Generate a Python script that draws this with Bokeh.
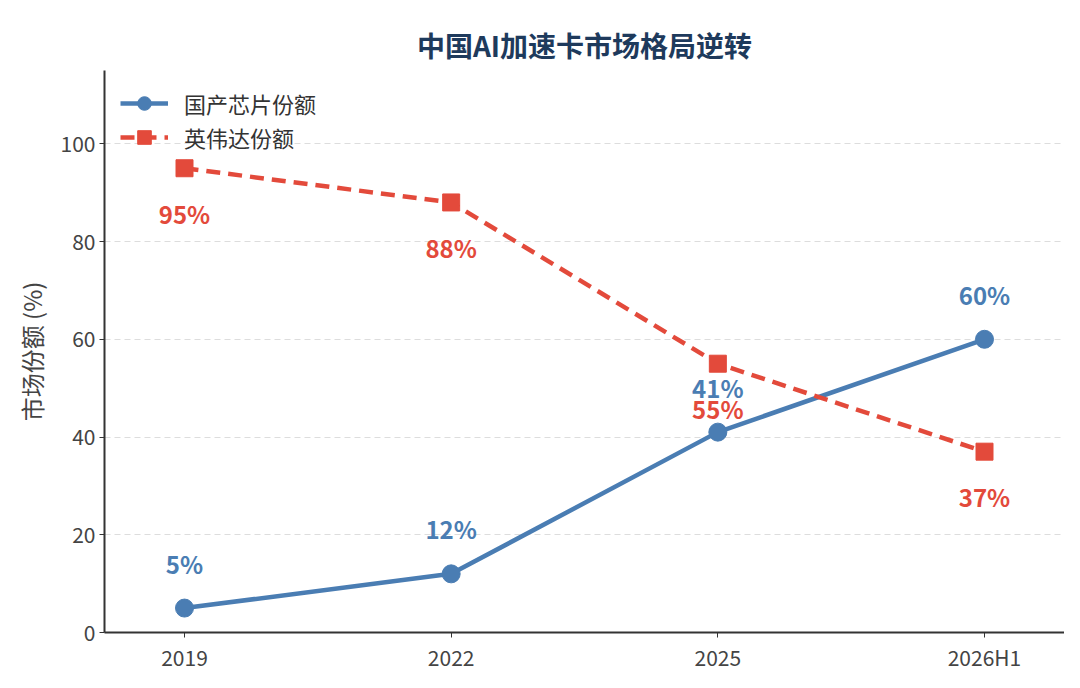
from bokeh.plotting import figure
from bokeh.models import ColumnDataSource, Range1d, FixedTicker, Legend, LegendItem
from bokeh.core.properties import value
from bokeh.embed import file_html
from bokeh.resources import INLINE

categories = ["2019", "2022", "2025", "2026H1"]
domestic = [5, 12, 41, 60]
nvidia = [95, 88, 55, 37]
series_names = ["国产芯片份额", "英伟达份额"]
title_text = "中国AI加速卡市场格局逆转"
y_label = "市场份额 (%)"
y_ticks = [0, 20, 40, 60, 80, 100]

BLUE = "#4a7db3"
RED = "#e34a3b"
FONT = "Noto Sans CJK SC"

xs = list(range(len(categories)))
src_d = ColumnDataSource(dict(x=xs, y=domestic, t=[f"{v}%" for v in domestic]))
src_n = ColumnDataSource(dict(x=xs, y=nvidia, t=[f"{v}%" for v in nvidia]))

X0, X1, Y0, Y1 = -0.3, 3.3, 0, 115
p = figure(width=1064, height=674, output_backend="svg", toolbar_location=None,
           x_range=Range1d(X0, X1), y_range=Range1d(Y0, Y1),
           min_border_left=104, min_border_right=0, min_border_top=70, min_border_bottom=39)

p.title.text = title_text
p.title.text_font = FONT
p.title.text_font_size = "28px"
p.title.text_font_style = "bold"
p.title.text_color = "#1e3a5c"
p.title.align = "center"
p.title.vertical_align = "middle"
p.title.offset = 0
p.title.standoff = 10

p.outline_line_color = None
p.background_fill_color = "white"
p.border_fill_color = "white"

# grid
p.xgrid.grid_line_color = None
p.ygrid.grid_line_color = "#dddddd"
p.ygrid.grid_line_dash = "6 4"
p.ygrid.grid_line_width = 1

# axes
p.xaxis.ticker = FixedTicker(ticks=xs)
p.xaxis.major_label_overrides = {i: c for i, c in enumerate(categories)}
p.yaxis.ticker = FixedTicker(ticks=y_ticks)
for ax in (p.xaxis, p.yaxis):
    ax.axis_line_color = "#333333"
    ax.axis_line_width = 2
    ax.major_tick_line_color = "#333333"
    ax.major_tick_line_width = 1
    ax.major_tick_out = 5
    ax.major_tick_in = 0
    ax.minor_tick_line_color = None
    ax.major_label_text_font = FONT
    ax.major_label_text_font_size = "21px"
    ax.major_label_text_color = "#444444"
    ax.major_label_standoff = 4
p.yaxis.axis_label = y_label
p.yaxis.axis_label_text_font = FONT
p.yaxis.axis_label_text_font_size = "24px"
p.yaxis.axis_label_text_font_style = "normal"
p.yaxis.axis_label_text_color = "#444444"
p.yaxis.axis_label_standoff = 9

# series
l1 = p.line("x", "y", source=src_d, line_color=BLUE, line_width=4.5)
m1 = p.scatter("x", "y", source=src_d, marker="circle", size=18, fill_color=BLUE, line_color=BLUE)
l2 = p.line("x", "y", source=src_n, line_color=RED, line_width=4.5, line_dash="14 8")
m2 = p.scatter("x", "y", source=src_n, marker="square", size=17, fill_color=RED, line_color=RED)

p.text("x", "y", text="t", source=src_d, y_offset=-45, text_align="center", text_baseline="middle",
       text_font=value(FONT), text_font_size="24px", text_font_style="bold", text_color=BLUE)
p.text("x", "y", text="t", source=src_n, y_offset=45, text_align="center", text_baseline="middle",
       text_font=value(FONT), text_font_size="24px", text_font_style="bold", text_color=RED)

legend = Legend(items=[LegendItem(label=series_names[0], renderers=[l1, m1]),
                       LegendItem(label=series_names[1], renderers=[l2, m2])],
                location="top_left")
legend.border_line_color = None
legend.background_fill_alpha = 0.0
legend.label_text_font = FONT
legend.label_text_font_size = "22px"
legend.label_text_color = "#333333"
legend.glyph_width = 48
legend.glyph_height = 34
legend.spacing = 0
legend.margin = 16
legend.padding = 0
legend.label_standoff = 16
p.add_layout(legend)

open("out.html", "w").write(file_html(p, INLINE))
